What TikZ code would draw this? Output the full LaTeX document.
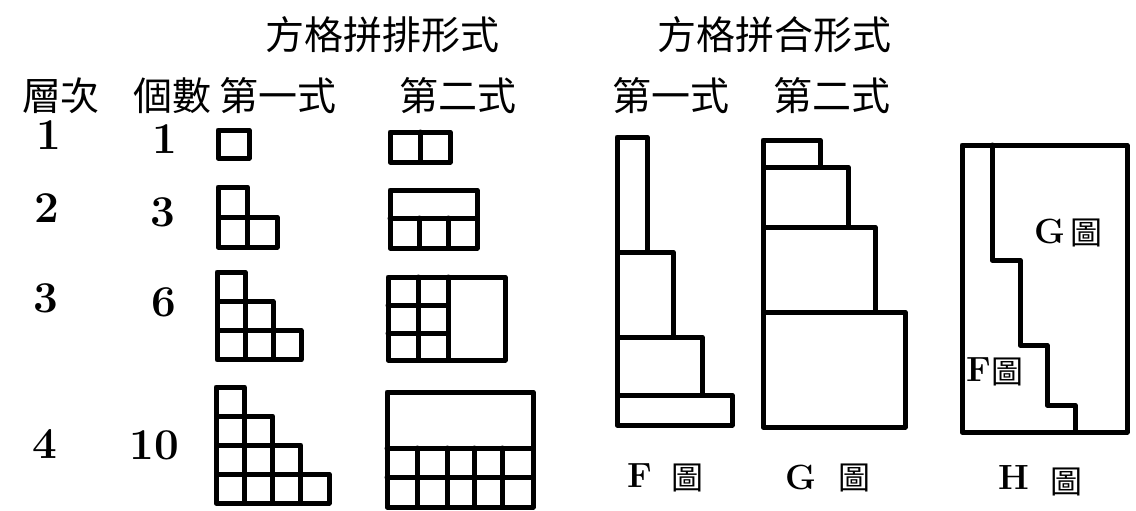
\documentclass[tikz,border=0pt]{standalone}
\usepackage{fontspec}
\newfontfamily\cjk{Noto Sans CJK TC}
\newcommand\mystairs[5]{% x0 y0 w h n
  \foreach \i in {1,...,#5}{
    \foreach \j in {1,...,\i}{
      \draw[ink] ({#1+(\j-1)*#3},{#2+(\i-1)*#4}) rectangle ++(#3,#4);
    }
  }
}
\begin{document}
\begin{tikzpicture}[x=1pt,y=-1pt,
  ink/.style={line width=5pt, line join=round, line cap=round},
  zh/.style={font=\cjk\fontsize{39}{39}\selectfont, inner sep=0pt},
  num/.style={font=\bfseries\fontsize{44}{44}\selectfont, inner sep=0pt},
  lett/.style={font=\bfseries\fontsize{35}{35}\selectfont, inner sep=0pt},
  zhs/.style={font=\cjk\fontsize{32}{32}\selectfont, inner sep=0pt}]
\useasboundingbox[fill=white] (0,0) rectangle (1136,511);

% titles
\node[zh] (t1) at (382,35) {方格拼排形式};
\node[zh] (t2) at (774,35) {方格拼合形式};
% headers
\node[zh] (h1) at (61,96) {層次};
\node[zh] (h2) at (172,96) {個數};
\node[zh] (h3) at (278,96) {第一式};
\node[zh] (h4) at (458,96) {第二式};
\node[zh] (h5) at (671,96) {第一式};
\node[zh] (h6) at (832,96) {第二式};

% level numbers
\node[num] (l1) at (49,135) {1};
\node[num] (l2) at (47,208) {2};
\node[num] (l3) at (46,298) {3};
\node[num] (l4) at (45,444) {4};
% counts
\node[num] (c1) at (165,139) {1};
\node[num] (c2) at (163,212) {3};
\node[num] (c3) at (164,302) {6};
\node[num] (c4) at (154,445) {10};

% first form (staircases)
\draw[ink] (218,130) rectangle (249,158);
\mystairs{218}{187}{29.5}{30}{2}
\mystairs{217}{272}{28}{29.3}{3}
\mystairs{216}{387}{28.25}{29}{4}

% second form
\draw[ink] (390,132) rectangle (450,162);
\draw[ink] (420,132) -- (420,162);

\draw[ink] (390,190) rectangle (477,248);
\draw[ink] (390,218) -- (477,218);
\draw[ink] (419,218) -- (419,248);
\draw[ink] (448,218) -- (448,248);

\draw[ink] (388,277) rectangle (505,360);
\draw[ink] (418,277) -- (418,360);
\draw[ink] (448,277) -- (448,360);
\draw[ink] (388,305) -- (448,305);
\draw[ink] (388,333) -- (448,333);

\draw[ink] (387,392) rectangle (533,507);
\draw[ink] (387,448) -- (533,448);
\draw[ink] (387,477) -- (533,477);
\foreach \x in {417,447,474,502}{\draw[ink] (\x,448) -- (\x,507);}

% F diagram
\draw[ink] (617,137) rectangle (647,252);
\draw[ink] (617,252) rectangle (673,337);
\draw[ink] (617,337) rectangle (702,395);
\draw[ink] (617,395) rectangle (732,425);

% G diagram
\draw[ink] (763,140) rectangle (820,167);
\draw[ink] (763,167) rectangle (848,227);
\draw[ink] (763,227) rectangle (875,312);
\draw[ink] (763,312) rectangle (905,427);

% H diagram
\draw[ink] (962,145) rectangle (1127,432);
\draw[ink] (992,145) -- (992,260) -- (1020,260) -- (1020,345) -- (1047,345)
  -- (1047,405) -- (1075,405) -- (1075,432);
\node[lett] (hg) at (1050,231) {G};
\node[zhs] (hgz) at (1086,233) {圖};
\node[lett] (hf) at (979,370) {F};
\node[zhs] (hfz) at (1007,372) {圖};

% captions
\node[lett] (fcap) at (640,476) {F};
\node[zhs] (fcapz) at (687,478) {圖};
\node[lett] (gcap) at (801,477) {G};
\node[zhs] (gcapz) at (854,478) {圖};
\node[lett] (hcap) at (1014,477) {H};
\node[zhs] (hcapz) at (1066,482) {圖};
\end{tikzpicture}
\end{document}
